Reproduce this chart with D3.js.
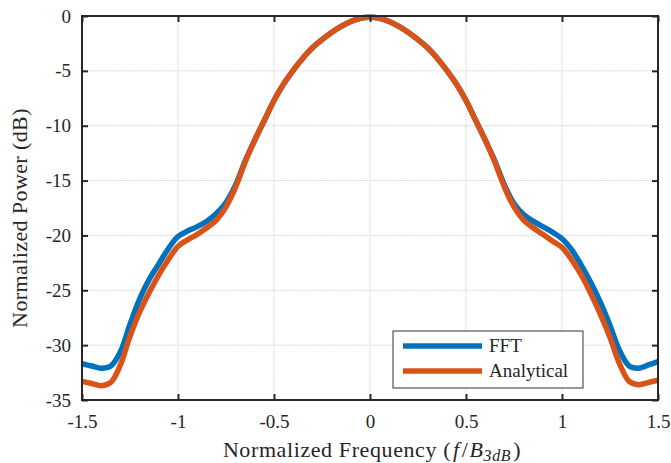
<!DOCTYPE html>
<html><head><meta charset="utf-8">
<script src="https://cdn.jsdelivr.net/npm/d3@7"></script>
<style>
body{margin:0;background:#fff;}
text{font-family:"Liberation Serif","Times New Roman",serif;fill:#262626;}
</style></head>
<body><svg id="chart" width="671" height="463"></svg>
<script>
const freq = [-1.5,-1.45,-1.4,-1.35,-1.3,-1.25,-1.2,-1.15,-1.1,-1.05,-1.0,-0.95,-0.9,-0.85,-0.8,-0.75,-0.7,-0.65,-0.6,-0.55,-0.5,-0.45,-0.4,-0.35,-0.3,-0.25,-0.2,-0.15,-0.1,-0.05,0,
  0.05,0.1,0.15,0.2,0.25,0.3,0.35,0.4,0.45,0.5,0.55,0.6,0.65,0.7,0.75,0.8,0.85,0.9,0.95,1.0,1.05,1.1,1.15,1.2,1.25,1.3,1.35,1.4,1.45,1.5];
const fftPower = [-31.7,-31.9,-32.1,-31.9,-30.6,-28.1,-25.8,-24.0,-22.6,-21.2,-20.1,-19.6,-19.2,-18.7,-18.0,-17.0,-15.4,-13.2,-11.3,-9.5,-7.7,-6.2,-4.95,-3.85,-2.9,-2.15,-1.5,-0.95,-0.5,-0.2,-0.12,
  -0.2,-0.5,-0.95,-1.5,-2.15,-2.9,-3.85,-4.95,-6.2,-7.7,-9.5,-11.3,-13.2,-15.4,-17.1,-18.1,-18.7,-19.2,-19.7,-20.3,-21.3,-22.7,-24.3,-26.1,-28.2,-30.5,-31.9,-32.1,-31.8,-31.5];
const analyticalPower = [-33.3,-33.5,-33.7,-33.4,-31.8,-29.2,-27.0,-25.2,-23.6,-22.2,-21.0,-20.4,-19.9,-19.3,-18.6,-17.4,-15.6,-13.3,-11.3,-9.5,-7.7,-6.2,-4.95,-3.85,-2.9,-2.15,-1.5,-0.95,-0.5,-0.2,-0.12,
  -0.2,-0.5,-0.95,-1.5,-2.15,-2.9,-3.85,-4.95,-6.2,-7.7,-9.5,-11.3,-13.3,-15.6,-17.4,-18.6,-19.3,-19.9,-20.5,-21.1,-22.2,-23.6,-25.3,-27.2,-29.3,-31.7,-33.3,-33.6,-33.4,-33.2];
const xTicks = [-1.5,-1,-0.5,0,0.5,1,1.5];
const xTickLabels = ["-1.5","-1","-0.5","0","0.5","1","1.5"];
const yTicks = [0,-5,-10,-15,-20,-25,-30,-35];
const yTickLabels = ["0","-5","-10","-15","-20","-25","-30","-35"];
const seriesNames = ["FFT","Analytical"];
const seriesColors = ["#0072BD","#D95319"];

const svg = d3.select("#chart");
const L=82, R=658, T=16, B=400;
const x = d3.scaleLinear().domain([-1.5,1.5]).range([L,R]);
const y = d3.scaleLinear().domain([-35,0]).range([B,T]);

// grid
const grid = svg.append("g");
grid.selectAll(".gx").data(xTicks).enter().append("line")
  .attr("x1",d=>x(d)).attr("x2",d=>x(d)).attr("y1",T).attr("y2",B)
  .attr("stroke","#d4d4d4").attr("stroke-width",1).attr("stroke-dasharray","1.5,1");
grid.selectAll(".gy").data(yTicks).enter().append("line")
  .attr("y1",d=>y(d)).attr("y2",d=>y(d)).attr("x1",L).attr("x2",R)
  .attr("stroke","#d4d4d4").attr("stroke-width",1).attr("stroke-dasharray","1.5,1");

// lines
const series = [fftPower, analyticalPower];
const line = d3.line().x((d,i)=>x(freq[i])).y(d=>y(d)).curve(d3.curveCatmullRom.alpha(0.5));
series.forEach((s,k)=>{
  svg.append("path").datum(s).attr("d",line).attr("fill","none")
    .attr("stroke",seriesColors[k]).attr("stroke-width",5.5).attr("stroke-linejoin","round");
});

// axes
const fmtX = d=>xTickLabels[xTicks.indexOf(d)];
const fmtY = d=>yTickLabels[yTicks.indexOf(d)];
const ax = svg.append("g").attr("transform",`translate(0,${B})`)
  .call(d3.axisBottom(x).tickValues(xTicks).tickFormat(fmtX).tickSize(-6).tickPadding(15));
const axT = svg.append("g").attr("transform",`translate(0,${T})`)
  .call(d3.axisTop(x).tickValues(xTicks).tickFormat("").tickSize(-6));
const ay = svg.append("g").attr("transform",`translate(${L},0)`)
  .call(d3.axisLeft(y).tickValues(yTicks).tickFormat(fmtY).tickSize(-6).tickPadding(11));
const ayR = svg.append("g").attr("transform",`translate(${R},0)`)
  .call(d3.axisRight(y).tickValues(yTicks).tickFormat("").tickSize(-6));
[ax,axT,ay,ayR].forEach(g=>{
  g.select(".domain").remove();
  g.selectAll("line").attr("stroke","#262626").attr("stroke-width",2);
  g.selectAll("text").style("font-family","'Liberation Serif',serif").style("font-size","19px").attr("fill","#262626");
});
svg.append("rect").attr("x",L).attr("y",T).attr("width",R-L).attr("height",B-T)
  .attr("fill","none").attr("stroke","#262626").attr("stroke-width",2);

// axis labels
const xl = svg.append("text").attr("x",(L+R)/2 + 2).attr("y",457).attr("text-anchor","middle")
  .style("font-size","22px").style("letter-spacing","0.6px");
xl.append("tspan").text("Normalized Frequency (");
xl.append("tspan").attr("font-style","italic").attr("dx",2).text("f");
xl.append("tspan").attr("dx",2).text("/");
xl.append("tspan").attr("font-style","italic").attr("dx",1).text("B");
xl.append("tspan").attr("font-style","italic").attr("dy",4).style("font-size","16px").text("3dB");
xl.append("tspan").attr("dy",-4).attr("dx",2).text(")");
svg.append("text").attr("transform",`translate(27,${(T+B)/2+10}) rotate(-90)`).attr("text-anchor","middle")
  .style("font-size","22px").style("letter-spacing","0.4px").text("Normalized Power (dB)");

// legend
const lg = svg.append("g");
lg.append("rect").attr("x",393).attr("y",331).attr("width",190).attr("height",57)
  .attr("fill","#fff").attr("stroke","#333").attr("stroke-width",1);
seriesNames.forEach((n,i)=>{
  const yy = 346 + i*25;
  lg.append("line").attr("x1",403).attr("x2",482).attr("y1",yy).attr("y2",yy)
    .attr("stroke",seriesColors[i]).attr("stroke-width",5.5);
  lg.append("text").attr("x",489).attr("y",yy+6).style("font-size","19px").text(n);
});
</script></body></html>
